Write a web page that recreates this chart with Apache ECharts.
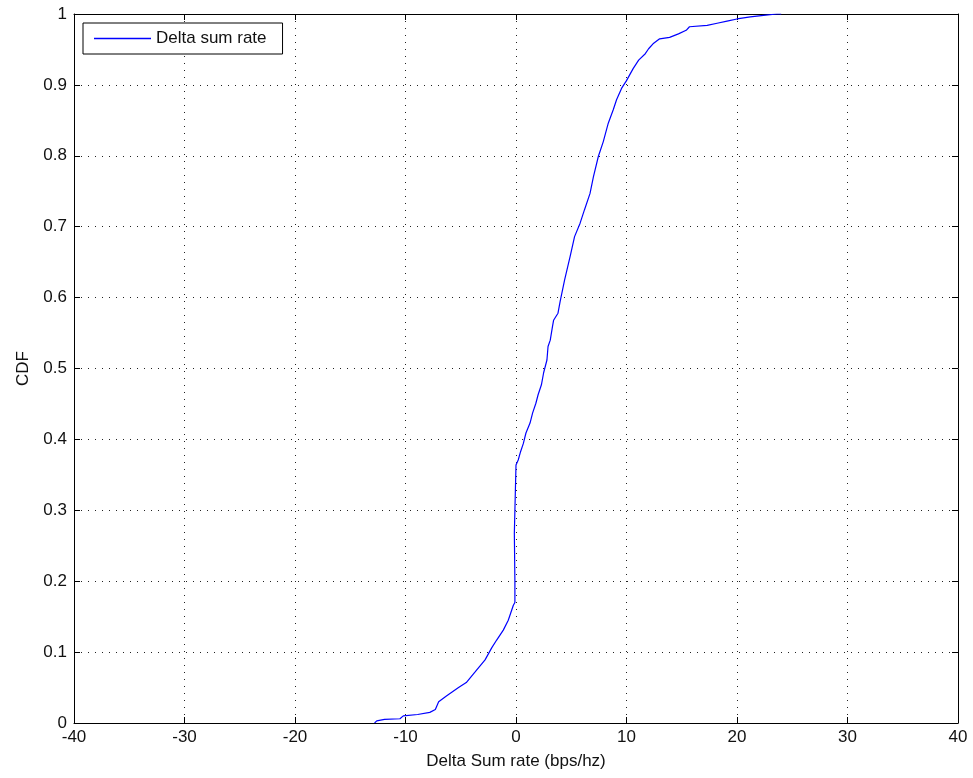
<!DOCTYPE html>
<html>
<head>
<meta charset="utf-8">
<script src="https://cdn.jsdelivr.net/npm/echarts@6/dist/echarts.min.js"></script>
<style>
  html, body { margin: 0; padding: 0; background: #fff; }
  #chart { width: 973px; height: 778px; }
</style>
</head>
<body>
<div id="chart"></div>
<script>
// curve points (x = delta sum rate, y = CDF)
const deltaRate = [
  -12.8, -12.6, -11.9, -10.5, -10.2, -8.9, -7.8, -7.3, -7.0, -6.3, -5.2, -4.5, -3.7, -2.8,
  -2.2, -1.75, -1.15, -0.7, -0.24, -0.1, -0.1, -0.15, 0.0, 0.0,
  0.2, 0.42, 0.66, 0.9, 1.27, 1.5, 1.8, 2.0, 2.3, 2.5, 2.8, 2.9, 3.1, 3.3, 3.4, 3.8, 4.0,
  4.4, 4.9, 5.3, 5.8, 6.2, 6.7, 7.0, 7.45, 7.9, 8.35, 8.8, 9.1, 9.55, 10.0, 10.6, 11.1,
  11.7, 12.0, 12.4, 13.0, 13.9, 14.7, 15.4, 15.7, 17.3, 18.2, 19.1, 20.0, 21.2, 22.4, 23.6, 24.0
];
const cdf = [
  0.0, 0.003, 0.005, 0.006, 0.01, 0.012, 0.015, 0.019, 0.03, 0.038, 0.05, 0.057, 0.072, 0.089,
  0.106, 0.117, 0.131, 0.145, 0.166, 0.17, 0.2, 0.268, 0.27, 0.364,
  0.371, 0.383, 0.394, 0.409, 0.423, 0.437, 0.451, 0.463, 0.477, 0.494, 0.512, 0.531, 0.54, 0.559, 0.568, 0.578, 0.595,
  0.625, 0.658, 0.686, 0.705, 0.724, 0.747, 0.770, 0.799, 0.82, 0.846, 0.865, 0.879, 0.895, 0.906, 0.923, 0.935,
  0.944, 0.951, 0.958, 0.965, 0.967, 0.972, 0.977, 0.982, 0.984, 0.987, 0.99, 0.993, 0.996, 0.998, 1.0, 1.0
];
const seriesName = 'Delta sum rate';
const xTicks = [-40, -30, -20, -10, 0, 10, 20, 30, 40];
const yTicks = [0, 0.1, 0.2, 0.3, 0.4, 0.5, 0.6, 0.7, 0.8, 0.9, 1];

const points = deltaRate.map((x, i) => [x, cdf[i]]);

const font = 'Liberation Sans, Arial, sans-serif';
const labelStyle = { color: '#111', fontSize: 17, fontFamily: font };
const gridDots = { show: true, lineStyle: { color: '#222', type: [1, 6], width: 1 } };

const chart = echarts.init(document.getElementById('chart'), null, { renderer: 'canvas' });
chart.setOption({
  backgroundColor: '#fff',
  animation: false,
  grid: { left: 74, right: 15, top: 14, bottom: 55 },
  legend: {
    show: true,
    left: 83, top: 23,
    data: [{ name: seriesName, icon: 'rect' }],
    itemWidth: 57, itemHeight: 1.5, itemGap: 0,
    padding: [7, 16, 7, 11],
    borderColor: '#000', borderWidth: 1, borderRadius: 0,
    backgroundColor: '#fff',
    textStyle: { color: '#111', fontSize: 17, fontFamily: font }
  },
  xAxis: [{
    type: 'value', min: -40, max: 40, interval: 10,
    name: 'Delta Sum rate (bps/hz)', nameLocation: 'middle', nameGap: 30,
    nameTextStyle: labelStyle,
    axisLine: { show: true, onZero: false, lineStyle: { color: '#000', width: 1 } },
    axisTick: { show: true, inside: true, length: 6, lineStyle: { color: '#000' } },
    axisLabel: Object.assign({ margin: 6, formatter: v => xTicks.includes(v) ? String(v) : '' }, labelStyle),
    splitLine: gridDots
  }, {
    type: 'value', min: -40, max: 40, interval: 10, position: 'top',
    axisLine: { show: true, onZero: false, lineStyle: { color: '#000', width: 1 } },
    axisTick: { show: true, inside: true, length: 6, lineStyle: { color: '#000' } },
    axisLabel: { show: false },
    splitLine: { show: false }
  }],
  yAxis: [{
    type: 'value', min: 0, max: 1, interval: 0.1,
    name: 'CDF', nameLocation: 'middle', nameGap: 42, nameRotate: 90,
    nameTextStyle: labelStyle,
    axisLine: { show: true, onZero: false, lineStyle: { color: '#000', width: 1 } },
    axisTick: { show: true, inside: true, length: 6, lineStyle: { color: '#000' } },
    axisLabel: Object.assign({
      margin: 7,
      formatter: v => {
        const t = yTicks.find(y => Math.abs(y - v) < 1e-6);
        return t === undefined ? '' : String(t);
      }
    }, labelStyle),
    splitLine: gridDots
  }, {
    type: 'value', min: 0, max: 1, interval: 0.1, position: 'right',
    axisLine: { show: true, onZero: false, lineStyle: { color: '#000', width: 1 } },
    axisTick: { show: true, inside: true, length: 6, lineStyle: { color: '#000' } },
    axisLabel: { show: false },
    splitLine: { show: false }
  }],
  series: [{
    name: seriesName,
    type: 'line',
    xAxisIndex: 0,
    yAxisIndex: 0,
    data: points,
    showSymbol: false,
    symbol: 'none',
    lineStyle: { color: '#0000ff', width: 1.2 },
    itemStyle: { color: '#0000ff' }
  }]
});
</script>
</body>
</html>
